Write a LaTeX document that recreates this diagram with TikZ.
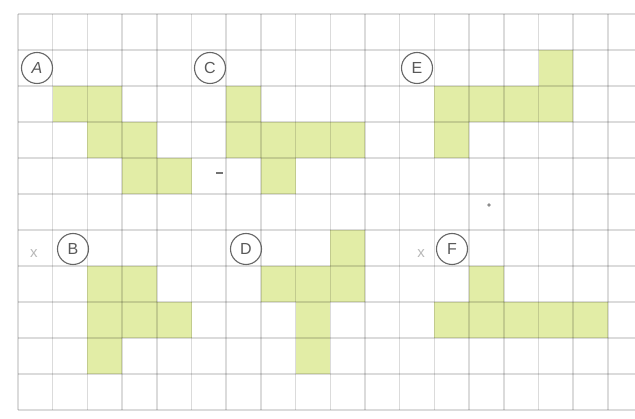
\documentclass[tikz,border=0pt]{standalone}
\usepackage{fontspec}
\setmainfont{Liberation Sans}
\begin{document}
\begin{tikzpicture}[x=1pt,y=-1pt,
  cellfill/.style={fill=cellgreen, draw=none},
  gridline/.style={draw=black, opacity=0.14, line width=1.5pt},
  letterring/.style={circle, draw=black!60, line width=1.1pt, minimum size=31pt, inner sep=0pt, text=black!65, font=\fontsize{16}{16}\selectfont},
  crossmark/.style={text=black!28, font=\fontsize{15}{15}\selectfont}]
\definecolor{cellgreen}{RGB}{226,237,166}
\useasboundingbox (0,0) rectangle (635,419);
\fill[white] (0,0) rectangle (635,419);
\def\cw{34.7}
\def\ch{36}
% green cells (col,row)
\foreach \c/\r in {1/2,2/2,2/3,3/3,3/4,4/4,
                   6/2,6/3,7/3,8/3,9/3,7/4,
                   15/1,12/2,13/2,14/2,15/2,12/3,
                   2/7,3/7,2/8,3/8,4/8,2/9,
                   9/6,7/7,8/7,9/7,8/8,8/9,
                   13/7,12/8,13/8,14/8,15/8,16/8}
  \fill[cellgreen] ({18+\c*\cw},{14+\r*\ch}) rectangle ({18+(\c+1)*\cw},{14+(\r+1)*\ch});
% grid
\foreach \k in {0,...,17}
  \draw[gridline] ({18+\k*\cw},14) -- ({18+\k*\cw},410);
\foreach \k in {0,...,11}
  \draw[gridline] (18,{14+\k*\ch}) -- (635,{14+\k*\ch});
% labels
\node[letterring] (la) at (37,68) {\textit{A}};
\node[letterring] (lc) at (210,68) {C};
\node[letterring] (le) at (417,68) {E};
\node[letterring] (lb) at (73,249) {B};
\node[letterring] (ld) at (246,249) {D};
\node[letterring] (lf) at (452,249) {F};
\node[crossmark] (xb) at (34,254) {x};
\node[crossmark] (xf) at (421,254) {x};
% small stray marks
\draw[black!55, line width=1.2pt] (216,173) -- (223,173);
\fill[black!45] (489,205) circle (1.8);
\end{tikzpicture}
\end{document}
